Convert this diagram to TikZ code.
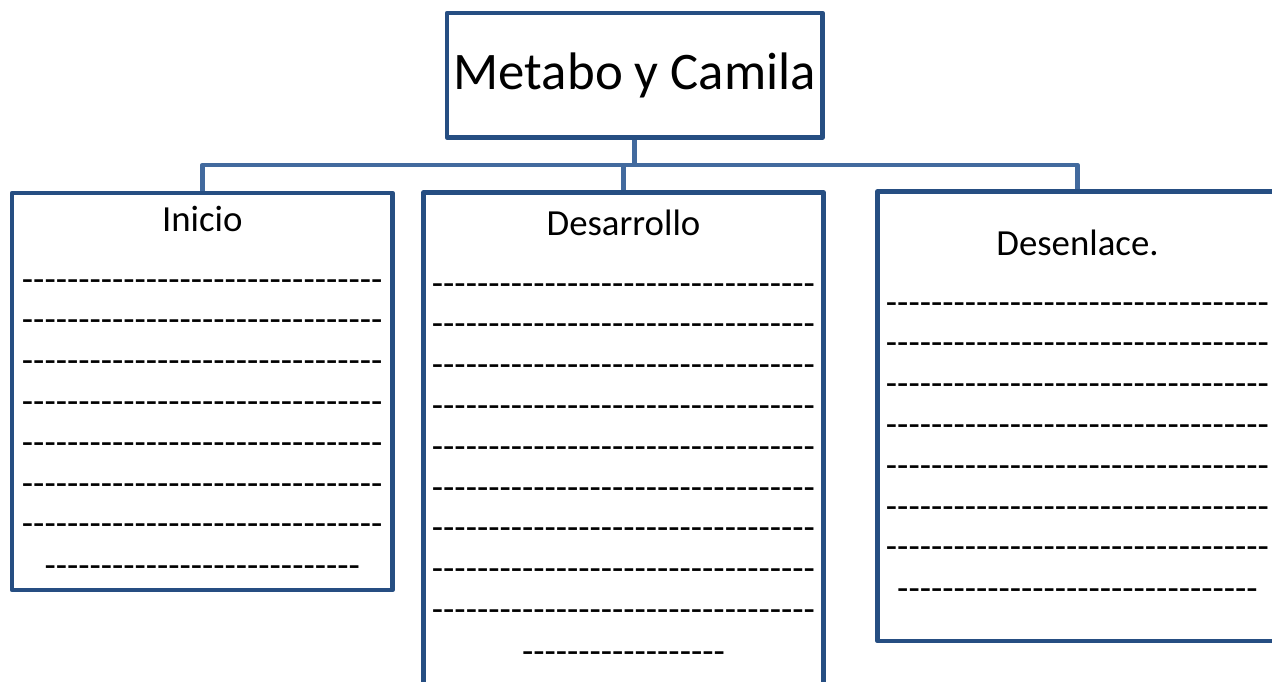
\documentclass[tikz,border=0pt]{standalone}
\usepackage{fontspec}
\setmainfont{Carlito}
\usetikzlibrary{backgrounds}
\definecolor{boxblue}{RGB}{38,78,130}
\definecolor{linkblue}{RGB}{66,106,158}
\newcommand\hyrow[1]{\foreach \j in {1,...,#1}{-\kern0pt}}
\tikzset{
  box/.style={draw=boxblue, line width=4.6pt, fill=white, line join=round, inner sep=0pt},
  conn/.style={draw=linkblue, line width=4.6pt, line join=round},
  label/.style={inner sep=0pt, anchor=base, font=\fontsize{36.8}{40}\selectfont},
  title/.style={inner sep=0pt, anchor=base, font=\fontsize{52.8}{60}\selectfont},
  dashtxt/.style={inner sep=0pt, anchor=base, font=\fontsize{36.8}{40}\selectfont},
}
\begin{document}
\begin{tikzpicture}[x=1pt,y=-1pt]
\clip (0,0) rectangle (1272,682);
% boxes
\node[box, minimum width=375.5pt, minimum height=124.5pt] (top) at (634.75,75.25) {};
\node[box, minimum width=380.5pt, minimum height=397pt] (inicio) at (202.25,391.5) {};
\node[box, minimum width=400pt, minimum height=530pt] (desarrollo) at (623.5,457.5) {};
\node[box, minimum width=400pt, minimum height=449.5pt] (desenlace) at (1077.5,416.25) {};
% connectors
\coordinate (junction) at (634.75,165);
\begin{scope}[on background layer]
\draw[conn] (top.south) -- (junction) -| (inicio.north);
\draw[conn] (junction) -| (desenlace.north);
\draw[conn] (junction -| desarrollo.north) -- (desarrollo.north);
\end{scope}
% texts
\node[title] (ttl) at (634.75,90) {Metabo y Camila};
\node[label] (linicio) at (202.25,231) {Inicio};
\node[label] (ldes) at (623.5,235) {Desarrollo};
\node[label] (lfin) at (1077.5,255) {Desenlace.};
% dash rows
\foreach \k in {0,...,6}
  \node[dashtxt] (i\k) at (202.25,291+40.8*\k) {\hyrow{32}};
\node[dashtxt] (i7) at (202.25,292+40.8*7) {\hyrow{28}};
\foreach \k in {0,...,8}
  \node[dashtxt] (d\k) at (623.5,295+40.8*\k) {\hyrow{34}};
\node[dashtxt] (d9) at (623.5,296+40.8*9) {\hyrow{18}};
\foreach \k in {0,...,6}
  \node[dashtxt] (e\k) at (1077.5,314+40.8*\k) {\hyrow{34}};
\node[dashtxt] (e7) at (1077.5,315+40.8*7) {\hyrow{32}};
\end{tikzpicture}
\end{document}
